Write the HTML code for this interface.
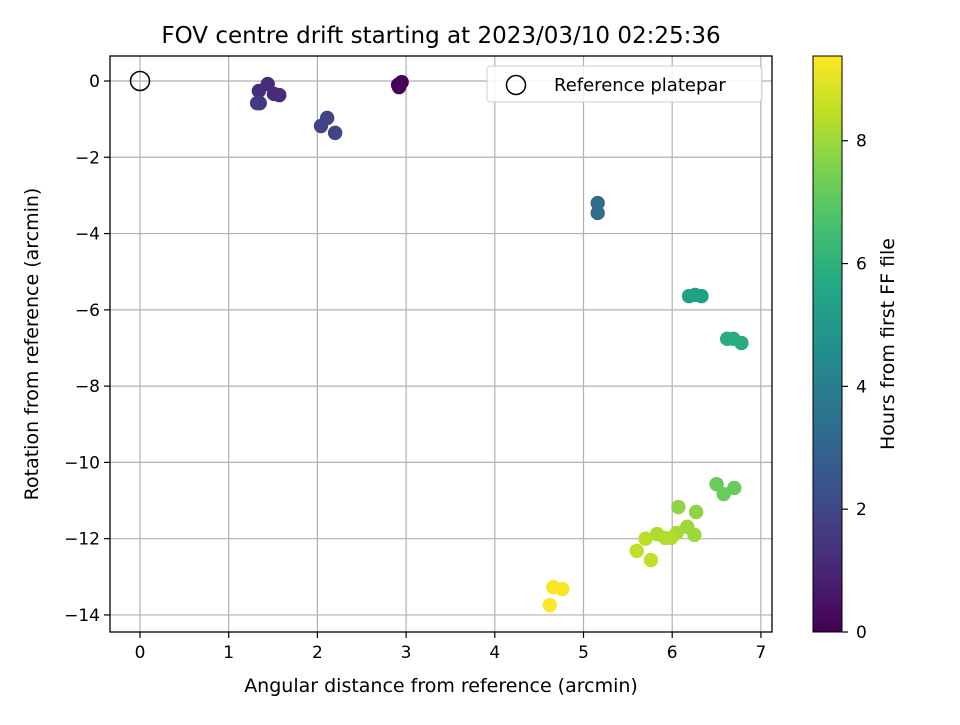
<!DOCTYPE html>
<html><head><meta charset="utf-8"><style>
body{margin:0;background:#fff}
svg text{font-family:"DejaVu Sans","Liberation Sans",sans-serif;fill:#000}
</style></head><body>
<svg id="chart" width="960" height="720" xmlns="http://www.w3.org/2000/svg">
<defs>
<linearGradient id="vir" x1="0" y1="1" x2="0" y2="0">
<stop offset="0" stop-color="#440154"/><stop offset="0.1" stop-color="#482475"/><stop offset="0.2" stop-color="#414487"/><stop offset="0.3" stop-color="#355f8d"/><stop offset="0.4" stop-color="#2a788e"/><stop offset="0.5" stop-color="#21918c"/><stop offset="0.6" stop-color="#22a884"/><stop offset="0.7" stop-color="#44bf70"/><stop offset="0.8" stop-color="#7ad151"/><stop offset="0.9" stop-color="#bddf26"/><stop offset="1" stop-color="#fde725"/>
</linearGradient>
</defs>
<g id="grid"></g>
<g id="points"></g>
<rect x="110" y="56" width="662" height="576" fill="none" stroke="#000" stroke-width="1.3"/>
<g id="ticks"></g>
<text x="441" y="43" font-size="23" text-anchor="middle">FOV centre drift starting at 2023/03/10 02:25:36</text>
<text x="441" y="692" font-size="19" text-anchor="middle">Angular distance from reference (arcmin)</text>
<text transform="translate(38,344) rotate(-90)" font-size="19" text-anchor="middle">Rotation from reference (arcmin)</text>
<g>
<rect x="487" y="66" width="275" height="36" rx="4" fill="#fff" fill-opacity="0.85" stroke="#ccc"/>
<circle cx="516" cy="85" r="9.5" fill="none" stroke="#000" stroke-width="1.5"/>
<text x="554" y="91" font-size="18">Reference platepar</text>
</g>
<rect x="813" y="56" width="29" height="576" fill="url(#vir)" stroke="#000" stroke-width="1"/>
<g id="cbticks"></g>
<text transform="translate(894,344) rotate(-90)" font-size="19" text-anchor="middle">Hours from first FF file</text>
</svg>
<script>
const xs=[1.34,1.44,1.51,1.57,1.32,1.35,2.11,2.04,2.20,2.91,2.95,2.92,5.16,5.16,6.19,6.26,6.33,6.62,6.69,6.78,6.50,6.58,6.70,6.07,6.27,6.17,6.25,6.05,5.83,5.92,5.99,5.70,5.60,5.76,4.66,4.76,4.62];
const ys=[-0.26,-0.08,-0.34,-0.37,-0.58,-0.58,-0.97,-1.18,-1.36,-0.10,-0.03,-0.16,-3.20,-3.46,-5.64,-5.61,-5.64,-6.76,-6.76,-6.87,-10.57,-10.83,-10.67,-11.17,-11.30,-11.69,-11.90,-11.85,-11.88,-11.98,-11.98,-12.00,-12.32,-12.56,-13.27,-13.32,-13.74];
const hrs=[1.2,1.1,1.1,1.1,1.6,1.6,1.9,1.9,1.9,0.1,0.05,0.1,3.3,3.3,5.3,5.3,5.3,5.8,5.8,5.8,7.2,7.2,7.2,7.8,7.8,8.0,8.0,8.1,8.2,8.3,8.3,8.4,8.5,8.5,9.3,9.3,9.35];
const xTicks=[0,1,2,3,4,5,6,7];
const yTicks=[0,-2,-4,-6,-8,-10,-12,-14];
const cTicks=[0,2,4,6,8];
const cMax=9.38;
const X=v=>140+v*88.7, Y=v=>81-v*38.14, C=v=>632-v*(576/cMax);
const stops=["#440154","#482475","#414487","#355f8d","#2a788e","#21918c","#22a884","#44bf70","#7ad151","#bddf26","#fde725"];
function hex(h){return [1,3,5].map(i=>parseInt(h.substr(i,2),16));}
function vir(t){t=Math.max(0,Math.min(1,t))*10;const i=Math.min(9,Math.floor(t)),f=t-i;const a=hex(stops[i]),b=hex(stops[i+1]);return `rgb(${a.map((v,k)=>Math.round(v+(b[k]-v)*f)).join(',')})`;}
const NS="http://www.w3.org/2000/svg";
function mk(tag,at,parent){const e=document.createElementNS(NS,tag);for(const k in at)e.setAttribute(k,at[k]);document.getElementById(parent).appendChild(e);return e;}
xTicks.forEach(v=>{
 const g=mk('line',{x1:X(v),x2:X(v),y1:56,y2:632,stroke:'#b0b0b0','stroke-width':1.2},'grid');
 
 
 mk('line',{x1:X(v),x2:X(v),y1:632,y2:638,stroke:'#000','stroke-width':1.2},'ticks');
 const t=mk('text',{x:X(v),y:658,'font-size':17,'text-anchor':'middle'},'ticks');
 t.textContent=String(v);
 
 
});
yTicks.forEach(v=>{
 const g=mk('line',{x1:110,x2:772,y1:Y(v),y2:Y(v),stroke:'#b0b0b0','stroke-width':1.2},'grid');
 
 
 mk('line',{x1:104,x2:110,y1:Y(v),y2:Y(v),stroke:'#000','stroke-width':1.2},'ticks');
 const t=mk('text',{x:100,y:Y(v)+6,'font-size':17,'text-anchor':'end'},'ticks');
 t.textContent=(v<0?'\u2212':'')+Math.abs(v);
 
 
});
cTicks.forEach(v=>{
 mk('line',{x1:842,x2:848,y1:C(v),y2:C(v),stroke:'#000','stroke-width':1.2},'cbticks');
 const t=mk('text',{x:856,y:C(v)+6,'font-size':17},'cbticks');
 t.textContent=String(v);
 
 
});
xs.forEach((x,i)=>{
 const c=mk('circle',{cx:X(x),cy:Y(ys[i]),r:7.2,fill:vir(hrs[i]/cMax)},'points');
 
 
});
const r=mk('circle',{cx:X(0),cy:Y(0),r:9.5,fill:'none',stroke:'#000','stroke-width':1.5},'points');


</script>
</body></html>
